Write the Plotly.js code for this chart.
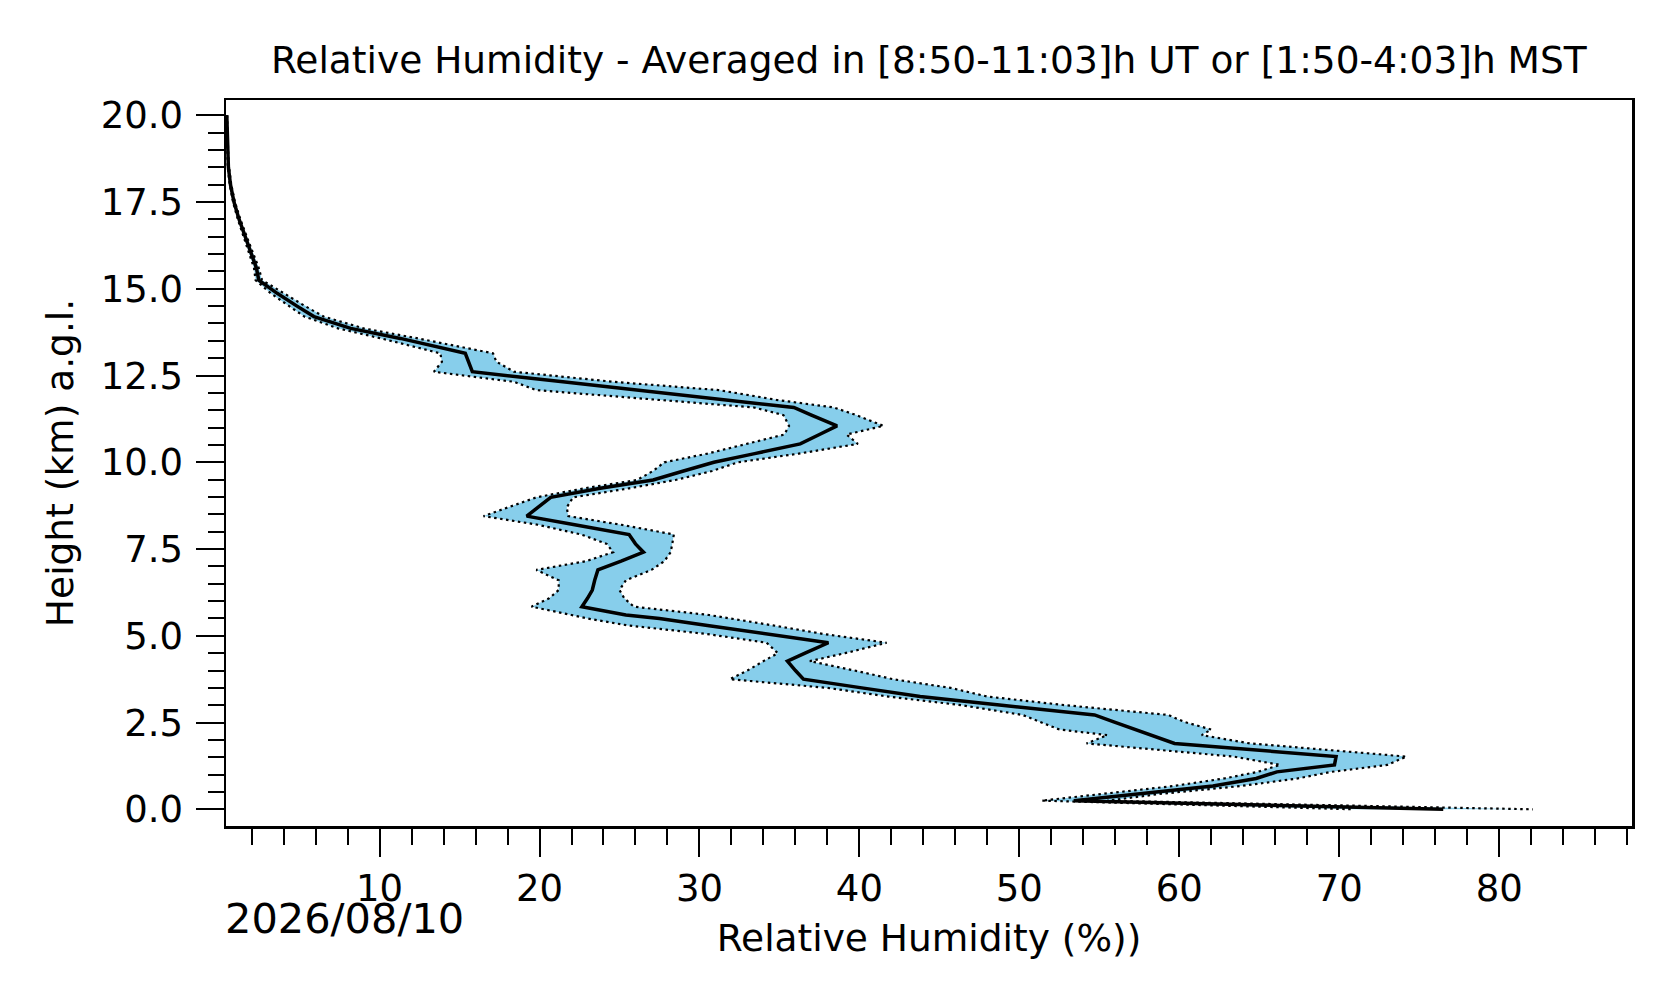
<!DOCTYPE html>
<html>
<head>
<meta charset="utf-8">
<script src="https://cdn.plot.ly/plotly-3.0.1.min.js"></script>
<style>
  html, body { margin: 0; padding: 0; background: #fff; }
  #plotarea { width: 1676px; height: 1003px; }
</style>
</head>
<body>
<div id="plotarea"></div>
<script>
// heights (km a.g.l.) of the profile levels
let heights = [20.0, 19.5, 19.0, 18.5, 18.0, 17.5, 17.0, 16.5, 16.0, 15.6,
    15.25, 14.87, 14.5, 14.2, 13.86, 13.57, 13.14, 12.9, 12.61, 12.32,
    12.08, 11.8, 11.58, 11.36, 11.05, 10.8, 10.53, 10.25, 10.0, 9.75,
    9.49, 9.25, 8.99, 8.7, 8.45, 8.2, 7.92, 7.65, 7.41, 7.15,
    6.9, 6.6, 6.32, 6.08, 5.84, 5.6, 5.5, 5.3, 5.05, 4.8,
    4.5, 4.27, 4.0, 3.75, 3.5, 3.25, 3.0, 2.72, 2.52, 2.3,
    2.14, 1.9, 1.52, 1.28, 1.08, 0.89, 0.67, 0.45, 0.25, 0.0];

// averaged relative humidity (%)
let rhMean = [0.45, 0.47, 0.50, 0.55, 0.68, 0.90, 1.22, 1.60, 2.00, 2.30,
    2.45, 3.6, 4.84, 5.9, 8.2, 11.3, 15.36, 15.55, 15.8, 21.46,
    26.1, 31.6, 35.9, 37.0, 38.6, 37.5, 36.3, 33.45, 30.9, 29.0,
    27.1, 23.8, 20.7, 19.9, 19.2, 22.2, 25.6, 26.0, 26.5, 25.1,
    23.65, 23.45, 23.3, 23.0, 22.65, 25.4, 27.5, 30.5, 34.3, 38.06,
    36.6, 35.5, 36.0, 36.5, 40.15, 43.8, 48.9, 54.7, 55.9, 57.3,
    58.2, 59.7, 69.8, 69.7, 66.1, 64.8, 62.1, 57.3, 53.4, 76.5];

// lower edge of the spread (mean - std)
let rhLow = [0.43, 0.45, 0.47, 0.51, 0.63, 0.84, 1.14, 1.50, 1.88, 2.15,
    2.25, 3.2, 4.35, 5.3, 7.4, 10.1, 13.8, 13.9, 13.4, 18.4,
    19.8, 27.5, 33.4, 35.25, 35.6, 35.3, 33.0, 30.5, 27.8, 27.1,
    26.1, 22.8, 19.8, 18.0, 16.5, 19.9, 22.6, 24.2, 24.6, 22.9,
    19.8, 21.2, 21.2, 20.6, 19.5, 22.0, 23.0, 25.5, 30.5, 34.2,
    34.9, 34.0, 33.0, 31.9, 38.0, 41.8, 46.4, 50.2, 51.3, 52.5,
    55.5, 54.2, 63.4, 66.3, 64.9, 62.8, 59.6, 55.4, 51.4, 70.9];

// upper edge of the spread (mean + std)
let rhHigh = [0.47, 0.49, 0.53, 0.59, 0.73, 0.96, 1.30, 1.70, 2.12, 2.45,
    2.65, 4.0, 5.35, 6.5, 9.0, 12.4, 17.1, 17.3, 18.4, 24.6,
    31.2, 34.8, 38.4, 39.8, 41.5, 39.2, 39.9, 36.2, 32.4, 30.8,
    28.5, 25.6, 22.1, 21.7, 21.8, 25.1, 28.4, 28.3, 28.2, 27.8,
    27.0, 25.4, 25.0, 25.3, 25.9, 30.6, 32.0, 34.6, 37.8, 41.7,
    39.1, 36.9, 39.7, 42.1, 45.7, 48.0, 52.9, 59.3, 60.3, 62.0,
    61.4, 64.4, 74.2, 73.0, 69.5, 67.4, 63.8, 58.9, 55.5, 82.1];

let dateLabel = '2026/08/10';
let chartTitle = 'Relative Humidity - Averaged in [8:50-11:03]h UT or [1:50-4:03]h MST';

let font = 'DejaVu Sans, sans-serif';

// shaded band: lower edge down, upper edge back up
let band = {
    x: rhLow.concat(rhHigh.slice().reverse()),
    y: heights.concat(heights.slice().reverse()),
    mode: 'lines',
    fill: 'toself',
    fillcolor: '#87ceeb',
    line: {width: 0},
    hoverinfo: 'skip',
    showlegend: false
};
let lowLine = {
    x: rhLow, y: heights, mode: 'lines',
    line: {color: 'black', width: 2.2, dash: '2.5px,3.5px'},
    showlegend: false
};
let highLine = {
    x: rhHigh, y: heights, mode: 'lines',
    line: {color: 'black', width: 2.2, dash: '2.5px,3.5px'},
    showlegend: false
};
let meanLine = {
    x: rhMean, y: heights, mode: 'lines',
    line: {color: 'black', width: 3.5},
    showlegend: false
};

let layout = {
    width: 1676,
    height: 1003,
    margin: {l: 226, r: 44, t: 100, b: 177},
    paper_bgcolor: 'white',
    plot_bgcolor: 'white',
    font: {family: font, color: 'black'},
    title: {
        text: chartTitle,
        font: {family: font, size: 37.5, color: 'black'},
        x: 0.5542, xanchor: 'center',
        y: 0.940, yanchor: 'middle'
    },
    xaxis: {
        range: [0.4, 88.3],
        tick0: 0, dtick: 10,
        ticks: 'outside', ticklen: 28, tickwidth: 2, tickcolor: 'black',
        minor: {dtick: 2, tick0: 0, ticks: 'outside', ticklen: 16, tickwidth: 2, tickcolor: 'black', showgrid: false},
        showline: true, linecolor: 'black', linewidth: 2.5, mirror: true,
        showgrid: false, zeroline: false,
        tickfont: {family: font, size: 37, color: 'black'},
        title: {text: 'Relative Humidity (%))', font: {family: font, size: 37.5, color: 'black'}, standoff: 16}
    },
    yaxis: {
        range: [-0.48, 20.44],
        tick0: 0, dtick: 2.5, tickformat: '.1f',
        ticks: 'outside', ticklen: 28, tickwidth: 2, tickcolor: 'black',
        ticklabelstandoff: 5,
        minor: {dtick: 0.5, tick0: 0, ticks: 'outside', ticklen: 16, tickwidth: 2, tickcolor: 'black', showgrid: false},
        showline: true, linecolor: 'black', linewidth: 2.5, mirror: true,
        showgrid: false, zeroline: false,
        tickfont: {family: font, size: 37, color: 'black'},
        title: {text: 'Height (km) a.g.l.', font: {family: font, size: 37.5, color: 'black'}, standoff: 16}
    },
    annotations: [{
        text: dateLabel,
        xref: 'paper', yref: 'paper',
        x: -0.002, y: -0.127,
        xanchor: 'left', yanchor: 'middle',
        showarrow: false,
        font: {family: font, size: 41.5, color: 'black'}
    }]
};

Plotly.newPlot('plotarea', [band, lowLine, highLine, meanLine], layout, {displayModeBar: false, staticPlot: true});
</script>
</body>
</html>
